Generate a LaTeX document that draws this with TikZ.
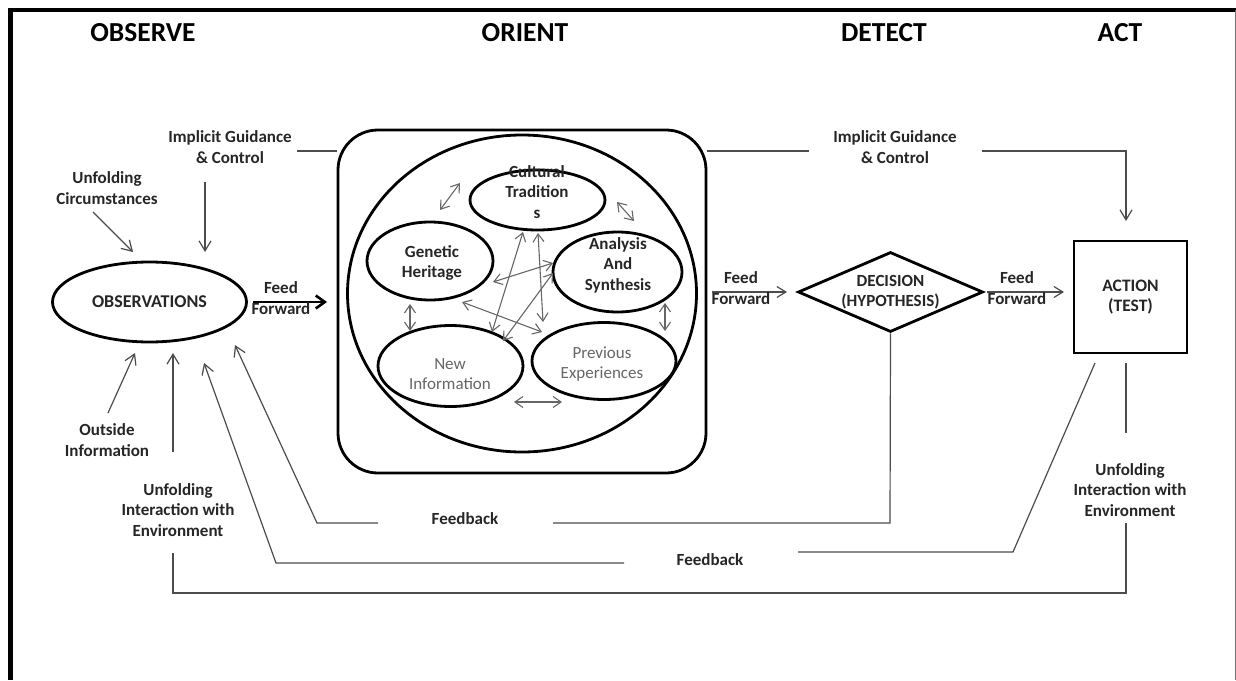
\documentclass[tikz,border=0pt]{standalone}
\usepackage{fontspec}
\setmainfont{Carlito}
\usetikzlibrary{arrows.meta,shapes.geometric}
\begin{document}
\begin{tikzpicture}[x=1pt,y=-1pt,
  hdr/.style={font=\bfseries\fontsize{27.5}{30}\selectfont, inner sep=0},
  lbl/.style={font=\bfseries\fontsize{17}{20.5}\selectfont, align=center, inner sep=0, text=black!85},
  glbl/.style={font=\fontsize{17}{20}\selectfont, align=center, inner sep=0, text=black!60},
  ell/.style={ellipse, draw, line width=2.8, inner sep=0},
  conn/.style={draw=black!70, line width=1.2},
  arr/.style={conn, -{Straight Barb[length=10pt,width=12pt]}},
  marr/.style={conn, -{Straight Barb[length=9pt,width=11pt]}},
  thick arr/.style={draw=black, line width=2.6, -{Straight Barb[length=9pt,width=13pt]}},
  darr/.style={draw=black!60, line width=1.1, {Straight Barb[length=8pt,width=11pt]}-{Straight Barb[length=8pt,width=11pt]}},
]
\fill[white] (0,0) rectangle (1236,680);
\useasboundingbox (0,0) rectangle (1236,680);
% frame
\draw[line width=4] (8,10) -- (1236,10);
\draw[line width=5] (10,8) -- (10,680);
\draw[black!55, line width=1] (1235,10) -- (1235,680);

% headers
\node[hdr] (hobs) at (143,32.5) {OBSERVE};
\node[hdr] (hori) at (525,32.5) {ORIENT};
\node[hdr] (hdet) at (884,32.5) {DETECT};
\node[hdr] (hact) at (1120,32.5) {ACT};

% main shapes
\node[ell, minimum width=194, minimum height=80, font=\bfseries\fontsize{18}{20}\selectfont, text=black!85] (obs) at (149.5,302) {OBSERVATIONS};
\node[draw, line width=2.8, rounded corners=40, minimum width=368, minimum height=343, inner sep=0] (orient) at (522,301.5) {};
\node[ell, minimum width=349, minimum height=317] (circ) at (522,293.5) {};
\node[diamond, draw, line width=2.8, minimum width=185, minimum height=80, aspect=2.3, inner sep=0, font=\bfseries\fontsize{17}{20}\selectfont, align=center, text=black!85] (dec) at (890.5,292) {DECISION\\(HYPOTHESIS)};
\node[draw, line width=2.8, minimum width=113, minimum height=112, inner sep=0, font=\bfseries\fontsize{17.5}{20}\selectfont, align=center, text=black!85] (act) at (1130.5,297) {ACTION\\(TEST)};

% inner ellipses
\node[ell, minimum width=135, minimum height=60] (ct) at (537.5,200) {};
\node[ell, minimum width=126, minimum height=78] (gh) at (430,261) {};
\node[ell, minimum width=129, minimum height=80] (as) at (617.5,272) {};
\node[ell, minimum width=145, minimum height=81] (ni) at (450.5,366) {};
\node[ell, minimum width=144, minimum height=77] (pe) at (604,361) {};
\node[lbl] (ctt) at (537,192) {Cultural\\Tradition\\s};
\node[lbl] (ght) at (432,263) {Genetic\\Heritage};
\node[lbl] (ast) at (618,265) {Analysis\\And\\Synthesis};
\node[glbl] (nit) at (450,374) {New\\Information};
\node[glbl] (pet) at (602,364) {Previous\\Experiences};

% inner double arrows
\coordinate (d1a) at (440,210); \coordinate (d1b) at (460,183);
\coordinate (d2a) at (617,202); \coordinate (d2b) at (634,221);
\coordinate (d3a) at (523,232); \coordinate (d3b) at (492,332);
\coordinate (d4a) at (538,233); \coordinate (d4b) at (543,322);
\coordinate (d5a) at (553,263); \coordinate (d5b) at (493,282);
\coordinate (d6a) at (553,273); \coordinate (d6b) at (503,341);
\coordinate (d7a) at (462,302); \coordinate (d7b) at (542,332);
\coordinate (d8a) at (410,304); \coordinate (d8b) at (410,331);
\coordinate (d9a) at (665,303); \coordinate (d9b) at (665,331);
\coordinate (d10a) at (514,402); \coordinate (d10b) at (562,402);
\foreach \i in {1,...,10} {\draw[darr] (d\i a) -- (d\i b);}

% labels
\node[lbl] (igl) at (230,147) {Implicit Guidance\\\& Control};
\node[lbl] (igr) at (895,147) {Implicit Guidance\\\& Control};
\node[lbl] (uc) at (107,188) {Unfolding\\Circumstances};
\node[lbl] (oi) at (107,440) {Outside\\Information};
\node[lbl] (uiel) at (178,510) {Unfolding\\Interaction with\\Environment};
\node[lbl] (uier) at (1130,490) {Unfolding\\Interaction with\\Environment};
\node[lbl] (fb1) at (465,519) {Feedback};
\node[lbl] (fb2) at (710,560) {Feedback};

% feed forward arrows (drawn under text)
\coordinate (ff1a) at (253,302); \coordinate (ff1b) at (327,302);
\draw[thick arr] (ff1a) -- (ff1b);
\coordinate (ff2a) at (712,292); \coordinate (ff2b) at (787,292);
\draw[marr] (ff2a) -- (ff2b);
\coordinate (ff3a) at (987,292); \coordinate (ff3b) at (1064,292);
\draw[marr] (ff3a) -- (ff3b);
\node[lbl] (ff1) at (281,298) {Feed\\Forward};
\node[lbl] (ff2) at (741,288) {Feed\\Forward};
\node[lbl] (ff3) at (1017,288) {Feed\\Forward};

% implicit guidance connectors
\coordinate (iglr) at (297,151);
\draw[conn] (iglr) -- (orient.west |- iglr);
\coordinate (igla) at (205,182); \coordinate (iglt) at (205,252);
\draw[arr] (igla) -- (iglt);
\coordinate (igrl) at (809,151); \coordinate (igrr) at (982,151);
\coordinate (igrc) at (1126,151); \coordinate (igrt) at (1126,221);
\draw[conn] (orient.east |- igrl) -- (igrl);
\draw[arr] (igrr) -- (igrc) -- (igrt);

% inputs to observations
\coordinate (uca) at (93,212); \coordinate (uct) at (133,252);
\draw[arr] (uca) -- (uct);
\coordinate (oia) at (108,413); \coordinate (oit) at (135,353);
\draw[arr] (oia) -- (oit);
\coordinate (ela) at (173,452); \coordinate (elt) at (173,353);
\draw[arr] (ela) -- (elt);

% unfolding interaction loop
\coordinate (el1) at (173,553); \coordinate (el2) at (173,593);
\coordinate (er2) at (1126,593); \coordinate (er1) at (1126,523);
\draw[conn] (el1) -- (el2) -- (er2) -- (er1);
\coordinate (ert) at (1126,363); \coordinate (erb) at (1126,433);
\draw[conn] (ert) -- (erb);

% feedback 1 (from decision)
\coordinate (f1a) at (890,523); \coordinate (f1b) at (553,523);
\draw[conn] (dec.south) -- (f1a) -- (f1b);
\coordinate (f1c) at (378,523); \coordinate (f1d) at (317,523); \coordinate (f1t) at (235,345);
\draw[arr] (f1c) -- (f1d) -- (f1t);

% feedback 2 (from action)
\coordinate (f2s) at (1095,363); \coordinate (f2a) at (1013,552); \coordinate (f2b) at (798,552);
\draw[conn] (f2s) -- (f2a) -- (f2b);
\coordinate (f2c) at (624,563); \coordinate (f2d) at (276,563); \coordinate (f2t) at (204,363);
\draw[arr] (f2c) -- (f2d) -- (f2t);
\end{tikzpicture}
\end{document}
